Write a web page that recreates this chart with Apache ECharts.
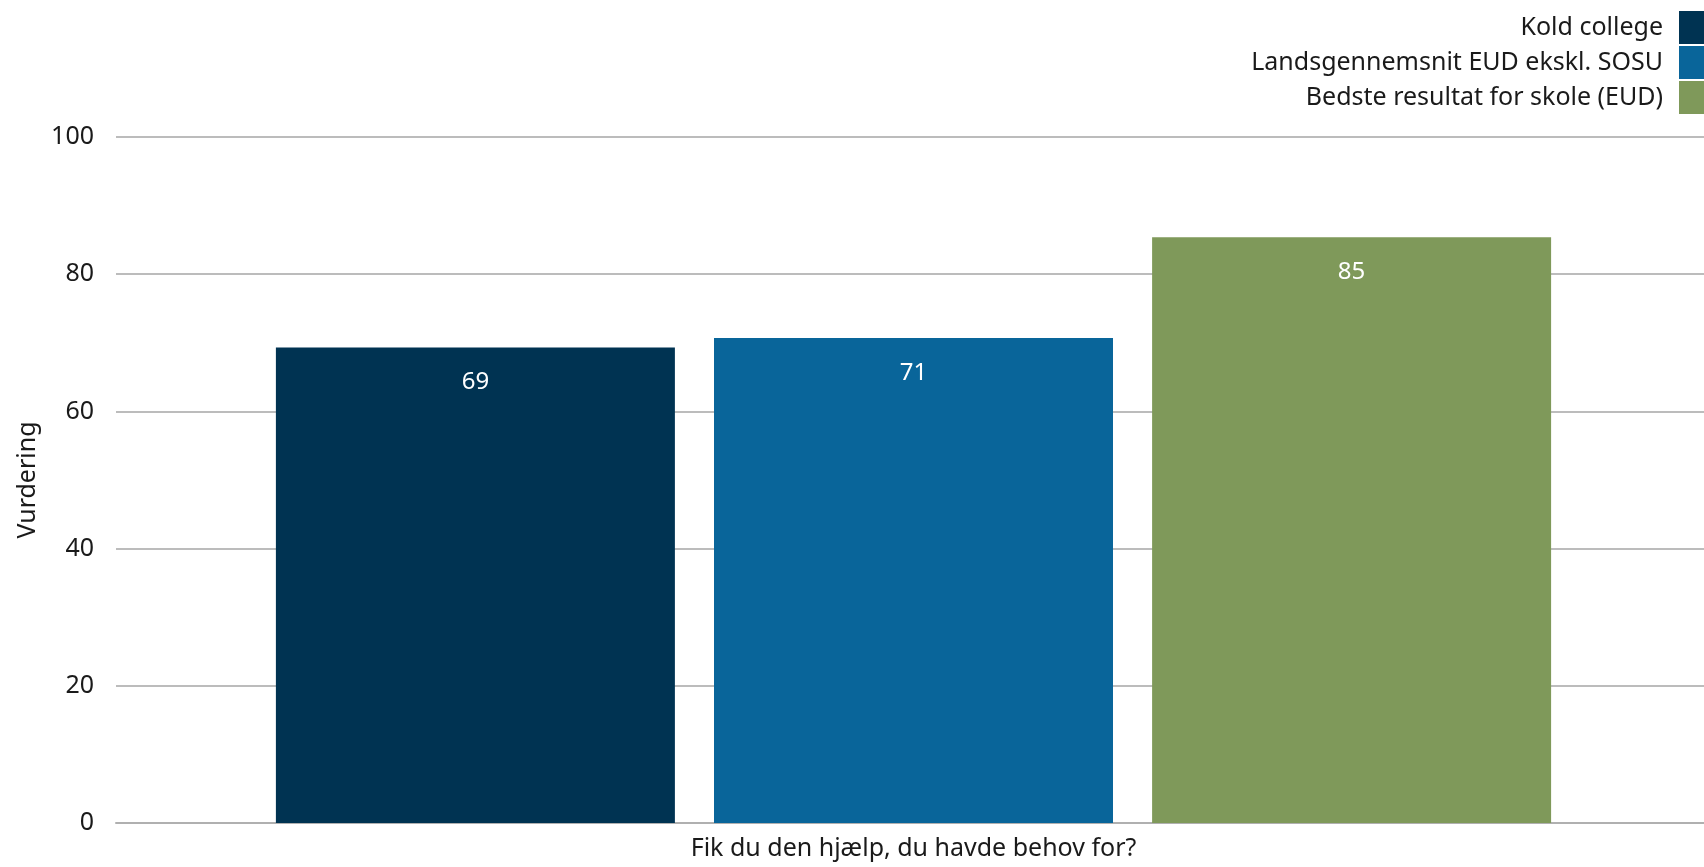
<!DOCTYPE html>
<html><head><meta charset="utf-8">
<script src="https://cdn.jsdelivr.net/npm/echarts@6/dist/echarts.min.js"></script>
<style>html,body{margin:0;padding:0;background:#fff;}#c{width:1704px;height:867px;}</style>
</head><body><div id="c"></div>
<script>
const categories = ["Fik du den hjælp, du havde behov for?"];
const seriesNames = ["Kold college", "Landsgennemsnit EUD ekskl. SOSU", "Bedste resultat for skole (EUD)"];
const koldCollege = [69.3];
const landsgennemsnit = [70.7];
const bedsteResultat = [85.4];
const yTicks = [0, 20, 40, 60, 80, 100];
const colors = ["#003352", "#09659A", "#7F995A"];

const FONT = "Noto Sans";
const chart = echarts.init(document.getElementById('c'));
const values = [koldCollege, landsgennemsnit, bedsteResultat];
chart.setOption({
  animation: false,
  textStyle: { fontFamily: FONT },
  legend: {
    orient: 'vertical', right: 0, top: 11, align: 'right', padding: 0,
    itemWidth: 25, itemHeight: 33, itemGap: 2,
    icon: 'rect',
    textStyle: { fontFamily: FONT, fontSize: 25, color: '#1a1a1a', padding: [0, 11, 0, 0] },
    data: seriesNames
  },
  grid: { left: 116, width: 1595, top: 137, height: 686, containLabel: false, outerBoundsMode: 'none' },
  xAxis: {
    type: 'category', data: categories,
    axisLine: { show: true, lineStyle: { color: '#b0b0b0', width: 2 } },
    axisTick: { show: false },
    axisLabel: { fontFamily: FONT, fontSize: 25, color: '#1a1a1a', margin: 13 }
  },
  yAxis: {
    type: 'value', min: 0, max: 100, interval: 20,
    name: 'Vurdering', nameLocation: 'middle', nameGap: 64, nameRotate: 90,
    nameTextStyle: { fontFamily: FONT, fontSize: 25, color: '#1a1a1a' },
    axisLabel: { fontFamily: FONT, fontSize: 25, color: '#1a1a1a', margin: 22,
      formatter: v => yTicks.includes(v) ? String(v) : '' },
    axisLine: { show: false }, axisTick: { show: false },
    splitLine: { lineStyle: { color: '#a6a6a6', width: 1.5 } }
  },
  series: seriesNames.map((n, i) => ({
    name: n, type: 'bar', data: values[i], barWidth: 399, barGap: '9.8%',
    itemStyle: { color: colors[i] },
    label: { show: true, position: 'insideTop', distance: 23, color: '#ffffff',
      fontFamily: FONT, fontSize: 24, formatter: p => Math.round(p.value) }
  }))
});
</script></body></html>
